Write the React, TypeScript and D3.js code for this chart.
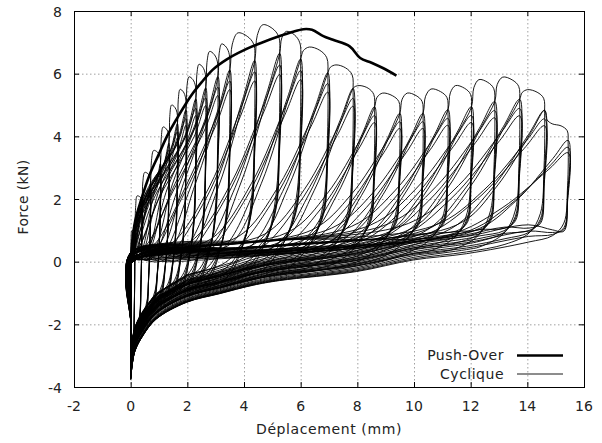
import React from 'react';
import * as d3 from 'd3';

const W = 602;
const H = 443;

const xTicks = [-2, 0, 2, 4, 6, 8, 10, 12, 14, 16];
const yTicks = [-4, -2, 0, 2, 4, 6, 8];

// Push-over curve (mm, kN)
const pushX = [0, 0.05, 0.16, 0.38, 0.66, 0.98, 1.28, 1.62, 1.92, 2.2, 2.5, 2.9, 3.38, 4.0, 4.6, 5.26, 5.7, 6.1, 6.4, 6.8, 7.14, 7.73, 8.1, 8.5, 8.9, 9.38];
const pushY = [0, 0.6, 1.3, 2.0, 2.75, 3.4, 4.0, 4.55, 5.0, 5.38, 5.72, 6.13, 6.45, 6.75, 6.98, 7.2, 7.33, 7.42, 7.4, 7.2, 7.08, 6.87, 6.5, 6.35, 6.18, 5.94];

// Cyclic test: maximum displacement of each amplitude and first-cycle peak force
const ampD = [0.15, 0.4, 0.7, 1.05, 1.35, 1.65, 1.95, 2.3, 2.65, 3.08, 3.5, 4.38, 5.26, 6.0, 6.96, 7.85, 8.61, 9.5, 10.32, 11.2, 12.03, 12.85, 13.73, 14.61, 15.44];
const ampF = [1.0, 2.1, 2.85, 3.55, 4.3, 5.0, 5.5, 5.9, 6.3, 6.71, 6.95, 7.3, 7.56, 7.35, 6.85, 6.28, 5.62, 5.38, 5.38, 5.51, 5.62, 5.81, 5.89, 5.49, 4.4];
// peak force ratio of repeated cycles at the same amplitude
const repeatRatio = [1, 0.88, 0.83, 0.79];
// lower envelope of the unloading branches
const envX = [0, 0.14, 0.43, 0.9, 1.97, 3.14, 4.32, 5.26, 7.96, 9.97, 11.85, 14, 15.5];
const envY = [-3.77, -2.9, -2.38, -1.85, -1.32, -1.05, -0.79, -0.65, -0.41, -0.1, 0.01, 0.2, 0.3];

// per-repetition shape variation (style only)
const baseSpread = [1, 1.15, 1.3, 1.5];
const bandShift = [0.1, -0.1, 0.35, -0.2];
const retShift = [0, 0.18, 0.35, 0.55];

type P = [number, number];

function buildCycle(k: number, r: number, env: (v: number) => number): P[] {
  const D = ampD[k];
  const F = ampF[k];
  const Dp = k > 0 ? ampD[k - 1] : 0;
  const F2p = k > 0 ? ampF[k - 1] * repeatRatio[1] : 0;
  const Ftop = F * repeatRatio[r];
  const s = Math.min(1, D / 6);
  const off = (v: number) => retShift[r] * Math.min(1, 0.4 + D / 8) + 0.6 * Math.exp(-(D - v) / 4);
  const ret = (v: number) => env(v) + off(v);
  const yMin = ret(0);
  const pts: P[] = [[0, yMin], [0.008, yMin * 0.55], [0.03, -0.05 + 0.12 * r]];
  const xt = r === 0 ? Dp : D;
  const Ft = r === 0 ? F2p : Ftop;
  if (xt > 0.1) {
    const dl = (0.28 * Ft + 0.12 * xt) * baseSpread[r];
    const xb = Math.max(0.05, xt - dl);
    const yb = Math.max(0.05, Math.min(0.15 + 0.08 * xb + bandShift[r], Ft * 0.25));
    if (xb > 0.6) pts.push([xb * 0.45, Math.max(0.05, 0.1 + 0.07 * xb * 0.45 + bandShift[r] * 0.6)]);
    pts.push([xb, yb]);
    const d = xt - xb;
    const t = Math.min(1, xt / 4);
    const f1x = 0.22 + 0.23 * t;
    const f1y = 0.58 - 0.25 * t;
    pts.push([xb + f1x * d, yb + f1y * (Ft - yb)]);
    pts.push([xt - 0.16 * d, yb + 0.8 * (Ft - yb)]);
    pts.push([xt, Ft]);
  }
  if (r === 0) {
    const w = D - Dp;
    pts.push([Dp + 0.1 * w, F2p + 0.7 * (F - F2p)]);
    pts.push([Dp + 0.32 * w, F]);
    pts.push([Dp + 0.7 * w, F * 0.985]);
    pts.push([D - 0.04 * w, F * 0.95]);
    pts.push([D, F * 0.86]);
  }
  pts.push([D - 0.02 * s, 0.55 * Ftop]);
  pts.push([D - 0.15 * s, 0.28 * Ftop]);
  const x3 = D - 0.55 * s;
  pts.push([x3, 0.1 * Ftop + 0.5 * ret(x3)]);
  const x4 = D - 1.4 * s;
  pts.push([x4, ret(x4)]);
  for (let i = envX.length - 1; i >= 0; i--) {
    if (envX[i] < x4 - 0.25) pts.push([envX[i], ret(envX[i])]);
  }
  return pts;
}

export default function App() {
  const x = d3.scaleLinear().domain([-2, 16]).range([74, 584]);
  const y = d3.scaleLinear().domain([-4, 8]).range([387, 11]);
  const env = d3.scaleLinear<number>().domain(envX).range(envY).clamp(true);
  const smooth = d3
    .line<P>()
    .x((d) => x(d[0]))
    .y((d) => y(d[1]))
    .curve(d3.curveCatmullRom.alpha(0.5));

  const cycles: string[] = [];
  ampD.forEach((_, k) => {
    repeatRatio.forEach((_, r) => {
      cycles.push(smooth(buildCycle(k, r, env)) || '');
    });
  });
  const pushPts: P[] = pushX.map((v, i) => [v, pushY[i]]);

  const font = '"DejaVu Sans", sans-serif';
  const [x0, x1] = x.range();
  const [yb, yt] = y.range();
  const tl = 5;

  return (
    <svg width={W} height={H} style={{ position: 'absolute', left: 0, top: 0, background: '#fff' }}>
      <rect x={0} y={0} width={W} height={H} fill="#fff" />
      <defs>
        <clipPath id="plot">
          <rect x={x0} y={yt} width={x1 - x0} height={yb - yt} />
        </clipPath>
      </defs>
      {/* grid */}
      <g stroke="#a0a0a0" strokeWidth={1} strokeDasharray="1.5,2.5">
        {xTicks.slice(1, -1).map((t) => (
          <line key={'gx' + t} x1={x(t) + 0.5} x2={x(t) + 0.5} y1={yt} y2={yb} />
        ))}
        {yTicks.slice(1, -1).map((t) => (
          <line key={'gy' + t} x1={x0} x2={x1} y1={y(t) + 0.5} y2={y(t) + 0.5} />
        ))}
      </g>
      {/* cyclic loops */}
      <g clipPath="url(#plot)" fill="none" stroke="#000" strokeWidth={0.9}>
        {cycles.map((d, i) => (
          <path key={i} d={d} />
        ))}
      </g>
      {/* push-over */}
      <path d={smooth(pushPts) || ''} fill="none" stroke="#000" strokeWidth={2.6} strokeLinejoin="round" />
      {/* frame */}
      <rect x={x0 + 0.5} y={yt + 0.5} width={x1 - x0} height={yb - yt} fill="none" stroke="#000" strokeWidth={1} />
      <g stroke="#000" strokeWidth={1}>
        {xTicks.map((t) => (
          <g key={'tx' + t}>
            <line x1={x(t) + 0.5} x2={x(t) + 0.5} y1={yb} y2={yb - tl} />
            <line x1={x(t) + 0.5} x2={x(t) + 0.5} y1={yt} y2={yt + tl} />
          </g>
        ))}
        {yTicks.map((t) => (
          <g key={'ty' + t}>
            <line x1={x0} x2={x0 + tl} y1={y(t) + 0.5} y2={y(t) + 0.5} />
            <line x1={x1} x2={x1 - tl} y1={y(t) + 0.5} y2={y(t) + 0.5} />
          </g>
        ))}
      </g>
      {/* tick labels */}
      <g fontFamily={font} fontSize={14} fill="#222">
        {xTicks.map((t) => (
          <text key={'lx' + t} x={x(t)} y={411} textAnchor="middle">
            {t}
          </text>
        ))}
        {yTicks.map((t) => (
          <text key={'ly' + t} x={62} y={y(t) + 5.5} textAnchor="end">
            {t}
          </text>
        ))}
        <text x={(x0 + x1) / 2} y={434} textAnchor="middle" letterSpacing={0.6}>
          Déplacement (mm)
        </text>
        <text transform={`translate(28,197) rotate(-90)`} textAnchor="middle" letterSpacing={0.3}>
          Force (kN)
        </text>
        {/* legend */}
        <text x={504} y={360} textAnchor="end" letterSpacing={0.5}>
          Push-Over
        </text>
        <text x={504} y={378.5} textAnchor="end" letterSpacing={0.5}>
          Cyclique
        </text>
      </g>
      <line x1={517} x2={563} y1={355.5} y2={355.5} stroke="#000" strokeWidth={2.6} />
      <line x1={517} x2={563} y1={374} y2={374} stroke="#000" strokeWidth={0.9} />
    </svg>
  );
}
